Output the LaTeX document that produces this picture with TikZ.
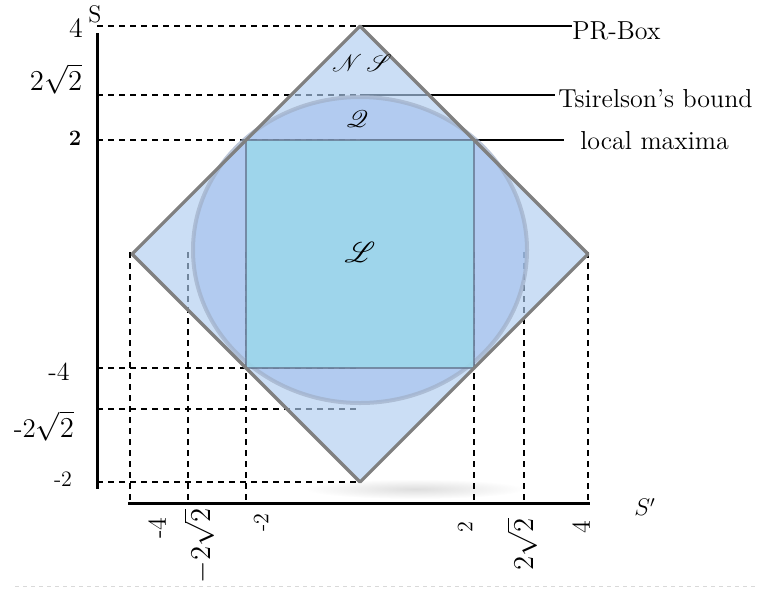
\documentclass[tikz,border=0pt]{standalone}
\usepackage{amsmath,amssymb}
\usepackage{mathrsfs}
\usepackage{xcolor}
\usetikzlibrary{calc}

\definecolor{nsfill}{RGB}{175,205,240}
\definecolor{qfill}{RGB}{161,192,237}
\definecolor{lfill}{RGB}{155,215,235}
\definecolor{qedge}{RGB}{160,175,200}
\definecolor{ledge}{RGB}{95,110,135}

\begin{document}
\begin{tikzpicture}[x=0.5pt, y=-0.5pt,
    guide/.style={line width=1pt, dash pattern=on 3pt off 2.5pt},
    leader/.style={line width=1pt},
    axisline/.style={line width=1.5pt},
    tag/.style={inner sep=0pt, anchor=west, font=\fontsize{13}{15}\selectfont},
    num/.style={inner sep=0pt}]
    \useasboundingbox (0,0) rectangle (758,590);

    \coordinate (top) at (360,26);
    \coordinate (right) at (588,254);
    \coordinate (bottom) at (360,482);
    \coordinate (left) at (132,254);
    \coordinate (sqtl) at (246,140);
    \coordinate (sqbr) at (474,368);
    \coordinate (qtop) at (360,95);
    \coordinate (mtop) at (360,140);

    % shadow under the lower corner
    \shade[inner color=black!13, outer color=white] (415,489) ellipse (110 and 10);

    % guides
    \foreach \y in {26,95,140,368,409,482}
        \draw[guide] (97,\y) -- (360,\y);
    \foreach \x in {130,188,246,474,524,588}
        \draw[guide] (\x,252) -- (\x,503);

    % axes
    \draw[axisline] (97,33) -- (97,489);
    \draw[axisline] (128,503) -- (590,503);

    % labels on the right
    \node[tag] (prbox) at (572,31) {PR-Box};
    \node[tag] (tsir) at (558,99) {Tsirelson's bound};
    \node[tag] (locmax) at (580,141) {local maxima};
    \draw[leader] (top) -- (top -| prbox.west);
    \draw[leader] (qtop) -- ($(qtop -| tsir.west)+(-3,0)$);
    \draw[leader] (mtop) -- ($(mtop -| locmax.west)+(-16,0)$);

    % sets
    \fill[nsfill, fill opacity=0.65] (top) -- (right) -- (bottom) -- (left) -- cycle;
    \filldraw[fill=qfill, fill opacity=0.6, draw=qedge, draw opacity=0.7, line width=2pt]
        (360,250) ellipse (167 and 153);
    \filldraw[fill=lfill, fill opacity=0.85, draw=ledge, draw opacity=0.7, line width=1pt]
        (sqtl) rectangle (sqbr);
    \draw[gray, line width=1.6pt, line join=round] (top) -- (right) -- (bottom) -- (left) -- cycle;

    \node (ns) at (362,63) {\fontsize{13}{13}\selectfont$\mathscr{N}\,\mathscr{S}$};
    \node (qq) at (357,119) {\fontsize{12}{12}\selectfont$\mathscr{Q}$};
    \node (ll) at (360,252) {\fontsize{14}{14}\selectfont$\mathscr{L}$};

    % axis labels
    \node[num, font=\fontsize{12}{12}\selectfont] (sname) at (95,14) {S};
    \node[num, font=\fontsize{12}{12}\selectfont] (spname) at (645,507) {$S'$};

    \node[num, font=\fontsize{14}{14}\selectfont] (y4) at (76,28) {4};
    \node[num, font=\fontsize{15}{15}\selectfont] (yr2) at (56,79) {$2\sqrt{2}$};
    \node[num, font=\fontsize{11}{11}\bfseries] (y2) at (75,138) {2};
    \node[num, font=\fontsize{13}{13}\selectfont] (ym4) at (59,372) {-4};
    \node[num, font=\fontsize{13.5}{14}\selectfont] (ymr2) at (44,426) {-2$\sqrt{2}$};
    \node[num, font=\fontsize{11}{11}\selectfont] (ym2) at (63,479) {-2};

    \node[num, rotate=90, font=\fontsize{13}{13}\selectfont] (xm4) at (157,528) {-4};
    \node[num, rotate=90, font=\fontsize{14}{14}\selectfont] (xmr2) at (199,546) {$-2\sqrt{2}$};
    \node[num, rotate=90, font=\fontsize{11}{11}\selectfont] (xm2) at (261,523) {-2};
    \node[num, rotate=90, font=\fontsize{11}{11}\selectfont] (x2) at (465,527) {2};
    \node[num, rotate=90, font=\fontsize{14}{14}\selectfont] (xr2) at (522,544) {$2\sqrt{2}$};
    \node[num, rotate=90, font=\fontsize{13}{13}\selectfont] (x4) at (581,527) {4};

    \draw[gray!30, line width=0.5pt, dash pattern=on 2pt off 2pt] (15,586) -- (758,586);
\end{tikzpicture}
\end{document}
